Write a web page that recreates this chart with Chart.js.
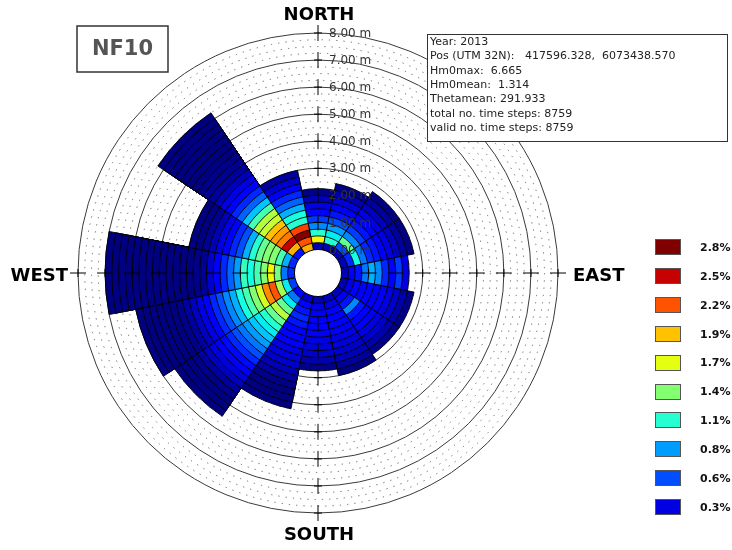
<!DOCTYPE html>
<html>
<head>
<meta charset="utf-8">
<script src="https://cdn.jsdelivr.net/npm/chart.js@4.4.1/dist/chart.umd.min.js"></script>
<style>
  html, body { margin: 0; padding: 0; background: #fff; }
</style>
</head>
<body>
<canvas id="rose" width="732" height="550"></canvas>
<script>
const directions = ['N', 'NNE', 'NE', 'ENE', 'E', 'ESE', 'SE', 'SSE', 'S', 'SSW', 'SW', 'WSW', 'W', 'WNW', 'NW', 'NNW'];
const binSize = 0.25;

// frequency (%) per 0.25 m Hm0 bin, innermost bin first
const fN   = [0.2, 1.75, 1.1, 0.75, 0.55, 0.4, 0.3, 0.2, 0.1];
const fNNE = [0.2, 1.1, 1.0, 0.8, 0.6, 0.45, 0.35, 0.28, 0.18, 0.1];
const fNE  = [0.2, 0.6, 1.3, 0.75, 0.55, 0.45, 0.4, 0.3, 0.22, 0.14, 0.08];
const fENE = [0.2, 0.5, 1.05, 0.7, 0.5, 0.45, 0.35, 0.3, 0.22, 0.14, 0.08];
const fE   = [0.2, 0.35, 0.45, 0.7, 0.85, 0.75, 0.5, 0.4, 0.55, 0.3];
const fESE = [0.2, 0.3, 0.4, 0.4, 0.4, 0.35, 0.35, 0.3, 0.25, 0.18, 0.1];
const fSE  = [0.2, 0.35, 0.45, 0.75, 0.45, 0.4, 0.35, 0.3, 0.25, 0.18, 0.1];
const fSSE = [0.2, 0.3, 0.4, 0.4, 0.4, 0.35, 0.3, 0.28, 0.25, 0.2, 0.14, 0.08];
const fS   = [0.2, 0.3, 0.35, 0.4, 0.4, 0.35, 0.3, 0.28, 0.25, 0.18, 0.1];
const fSSW = [0.25, 0.4, 0.45, 0.5, 0.45, 0.4, 0.38, 0.35, 0.3, 0.28, 0.25, 0.2, 0.15, 0.1, 0.08, 0.05, 0.03];
const fSW  = [0.4, 0.7, 1.0, 1.3, 1.55, 1.3, 1.1, 1.0, 0.9, 0.8, 0.7, 0.6, 0.5, 0.42, 0.35, 0.28, 0.22, 0.15, 0.1, 0.06, 0.04, 0.03];
const fWSW = [0.55, 1.0, 1.5, 2.2, 2.05, 1.65, 1.4, 1.2, 1.05, 0.85, 0.75, 0.6, 0.5, 0.4, 0.3, 0.22, 0.15, 0.1, 0.08, 0.06, 0.05, 0.04, 0.03, 0.02];
const fW   = [0.5, 0.7, 1.35, 1.75, 1.4, 1.2, 1.05, 1.15, 0.8, 0.65, 0.5, 0.4, 0.25, 0.12, 0.1, 0.08, 0.07, 0.06, 0.05, 0.05, 0.04, 0.04, 0.03, 0.03, 0.02, 0.02, 0.02, 0.01];
const fWNW = [0.5, 0.85, 1.2, 1.4, 1.4, 1.3, 1.1, 0.85, 0.6, 0.5, 0.4, 0.3, 0.2, 0.12, 0.08, 0.05];
const fNW  = [0.45, 1.95, 2.5, 2.1, 2.0, 1.9, 1.6, 1.55, 1.2, 0.9, 0.65, 0.5, 0.4, 0.3, 0.2, 0.15, 0.12, 0.1, 0.08, 0.06, 0.05, 0.04, 0.03, 0.02, 0.02];
const fNNW = [1.95, 2.2, 2.78, 2.25, 1.1, 1.05, 0.85, 0.65, 0.5, 0.35, 0.25, 0.15];

const sectors = [fN, fNNE, fNE, fENE, fE, fESE, fSE, fSSE, fS, fSSW, fSW, fWSW, fW, fWNW, fNW, fNNW];

const colorMin = 0.08;
const colorMax = 2.66;
const legendLevels = [2.8, 2.5, 2.2, 1.9, 1.7, 1.4, 1.1, 0.8, 0.6, 0.3];
const radiusTicks = [0, 1, 2, 3, 4, 5, 6, 7, 8];
const cardinals = ['NORTH', 'EAST', 'SOUTH', 'WEST'];
const stationName = 'NF10';
const infoLines = [
  'Year: 2013',
  'Pos (UTM 32N):   417596.328,  6073438.570',
  'Hm0max:  6.665',
  'Hm0mean:  1.314',
  'Thetamean: 291.933',
  'total no. time steps: 8759',
  'valid no. time steps: 8759'
];

// matplotlib jet
const JET = {
  r: [[0, 0], [0.35, 0], [0.66, 1], [0.89, 1], [1, 0.5]],
  g: [[0, 0], [0.125, 0], [0.375, 1], [0.64, 1], [0.91, 0], [1, 0]],
  b: [[0, 0.5], [0.11, 1], [0.34, 1], [0.65, 0], [1, 0]]
};
function seg(pts, x) {
  for (let i = 1; i < pts.length; i++) {
    if (x <= pts[i][0]) {
      const [x0, y0] = pts[i - 1], [x1, y1] = pts[i];
      return y0 + (y1 - y0) * (x - x0) / (x1 - x0);
    }
  }
  return pts[pts.length - 1][1];
}
function jet(f) {
  const x = Math.min(1, Math.max(0, (f - colorMin) / (colorMax - colorMin)));
  const c = k => Math.round(255 * seg(JET[k], x));
  return `rgb(${c('r')},${c('g')},${c('b')})`;
}

// one dataset per height bin; dataset 0 is drawn last (on top)
const maxBins = Math.max(...sectors.map(s => s.length));
const datasets = [];
for (let k = 0; k < maxBins; k++) {
  datasets.push({
    label: ((k + 1) * binSize).toFixed(2) + ' m',
    data: sectors.map(s => k < s.length ? (k + 1) * binSize : null),
    backgroundColor: sectors.map(s => k < s.length ? jet(s[k]) : 'rgba(0,0,0,0)'),
    borderColor: '#000',
    borderWidth: 0.9
  });
}

const overlay = {
  id: 'overlay',
  afterDatasetsDraw(chart) {
    const ctx = chart.ctx;
    const s = chart.scales.r;
    const cx = s.xCenter, cy = s.yCenter;
    const rad = v => s.getDistanceFromCenterForValue(v);
    ctx.save();

    // centre hole
    ctx.beginPath();
    ctx.arc(cx, cy, rad(0), 0, Math.PI * 2);
    ctx.fillStyle = '#fff';
    ctx.fill();
    ctx.strokeStyle = '#000';
    ctx.lineWidth = 1;
    ctx.stroke();

    // compass axes with a tick at every metre
    ctx.strokeStyle = '#000';
    ctx.lineWidth = 1;
    [0, 90, 180, 270].forEach(deg => {
      const a = deg * Math.PI / 180;
      const ux = Math.sin(a), uy = -Math.cos(a);
      radiusTicks.slice(1).forEach(h => {
        const r = rad(h);
        ctx.beginPath();
        ctx.moveTo(cx + ux * (r - 8), cy + uy * (r - 8));
        ctx.lineTo(cx + ux * (r + 8), cy + uy * (r + 8));
        ctx.moveTo(cx + ux * r - uy * 4, cy + uy * r + ux * 4);
        ctx.lineTo(cx + ux * r + uy * 4, cy + uy * r - ux * 4);
        ctx.stroke();
      });
    });

    // radius labels
    ctx.fillStyle = '#333';
    ctx.font = '12px "DejaVu Sans"';
    ctx.textAlign = 'left';
    ctx.textBaseline = 'middle';
    radiusTicks.forEach(v => {
      ctx.fillText(v.toFixed(2) + ' m', cx + 11, cy - rad(v) + 1);
    });

    // compass labels
    const R = rad(8);
    ctx.fillStyle = '#000';
    ctx.font = 'bold 18px "DejaVu Sans"';
    ctx.textAlign = 'center';
    ctx.fillText(cardinals[0], cx + 1, cy - R - 18);
    ctx.fillText(cardinals[2], cx + 1, cy + R + 22);
    ctx.textAlign = 'left';
    ctx.fillText(cardinals[1], cx + R + 15, cy + 3);
    ctx.textAlign = 'right';
    ctx.fillText(cardinals[3], cx - R - 10, cy + 3);

    // station box
    ctx.fillStyle = '#fff';
    ctx.fillRect(77, 26, 91, 46);
    ctx.strokeStyle = '#333';
    ctx.lineWidth = 1.5;
    ctx.strokeRect(77, 26, 91, 46);
    ctx.fillStyle = '#555';
    ctx.font = 'bold 21px "DejaVu Sans"';
    ctx.textAlign = 'center';
    ctx.fillText(stationName, 122.5, 49.5);

    // info box
    ctx.fillStyle = '#fff';
    ctx.fillRect(427.5, 34.5, 300, 107);
    ctx.strokeStyle = '#333';
    ctx.lineWidth = 1;
    ctx.strokeRect(427.5, 34.5, 300, 107);
    ctx.fillStyle = '#222';
    ctx.font = '11px "DejaVu Sans"';
    ctx.textAlign = 'left';
    infoLines.forEach((t, i) => ctx.fillText(t, 430, 42 + i * 14.4));

    // colour legend
    legendLevels.forEach((lv, i) => {
      const y = 247 + i * 28.9;
      ctx.fillStyle = jet(lv);
      ctx.fillRect(655.5, Math.round(y) - 7.5, 25, 15);
      ctx.strokeStyle = '#555';
      ctx.lineWidth = 1;
      ctx.strokeRect(655.5, Math.round(y) - 7.5, 25, 15);
      ctx.fillStyle = '#111';
      ctx.font = 'bold 11px "DejaVu Sans"';
      ctx.textAlign = 'left';
      ctx.fillText(lv.toFixed(1) + '%', 700, y + 1);
    });

    ctx.restore();
  }
};

new Chart(document.getElementById('rose'), {
  type: 'polarArea',
  data: { labels: directions, datasets },
  options: {
    responsive: false,
    animation: false,
    events: [],
    layout: { padding: { left: 78, right: 174, top: 33, bottom: 37 } },
    plugins: { legend: { display: false }, tooltip: { enabled: false } },
    scales: {
      r: {
        min: -0.87,
        max: 8,
        startAngle: -11.25,
        ticks: { display: false },
        pointLabels: { display: false },
        angleLines: { display: false },
        grid: {
          circular: true,
          lineWidth: 1,
          color: c => (c.tick && c.tick.value % 1 === 0) ? '#3a3a3a' : '#6a6a6a'
        },
        border: {
          dash: c => (c.tick && c.tick.value % 1 === 0) ? [] : [1.3, 6]
        },
        afterBuildTicks: scale => {
          const t = [];
          for (let v = 0; v <= 8; v += binSize) t.push({ value: v });
          scale.ticks = t;
        }
      }
    }
  },
  plugins: [overlay]
});
</script>
</body>
</html>
